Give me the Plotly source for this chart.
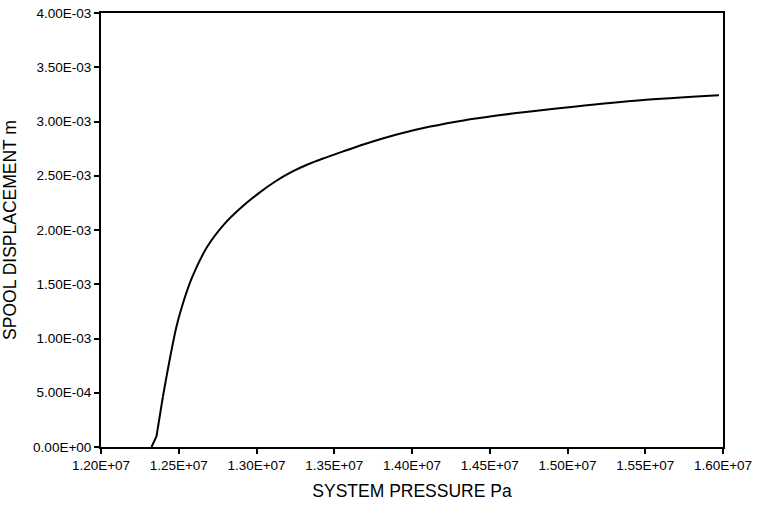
import plotly.graph_objects as go

pressure = [1.2325e7, 1.2357e7, 1.2398e7, 1.2441e7, 1.2485e7, 1.2517e7, 1.2585e7,
            1.2683e7, 1.2790e7, 1.2900e7, 1.3015e7, 1.3118e7, 1.3226e7, 1.3332e7,
            1.3440e7, 1.3558e7, 1.3687e7, 1.3902e7, 1.4117e7, 1.4331e7, 1.4546e7,
            1.4761e7, 1.5040e7, 1.5470e7, 1.5974e7]
displacement = [0.0, 0.10e-3, 0.463e-3, 0.80e-3, 1.108e-3, 1.277e-3, 1.560e-3,
                1.845e-3, 2.050e-3, 2.205e-3, 2.340e-3, 2.445e-3, 2.535e-3, 2.606e-3,
                2.665e-3, 2.725e-3, 2.788e-3, 2.880e-3, 2.953e-3, 3.010e-3, 3.055e-3,
                3.093e-3, 3.137e-3, 3.195e-3, 3.241e-3]

x_ticks = [1.20e7, 1.25e7, 1.30e7, 1.35e7, 1.40e7, 1.45e7, 1.50e7, 1.55e7, 1.60e7]
x_labels = ["1.20E+07", "1.25E+07", "1.30E+07", "1.35E+07", "1.40E+07",
            "1.45E+07", "1.50E+07", "1.55E+07", "1.60E+07"]
y_ticks = [0, 0.5e-3, 1.0e-3, 1.5e-3, 2.0e-3, 2.5e-3, 3.0e-3, 3.5e-3, 4.0e-3]
y_labels = ["0.00E+00", "5.00E-04", "1.00E-03", "1.50E-03", "2.00E-03",
            "2.50E-03", "3.00E-03", "3.50E-03", "4.00E-03"]

fig = go.Figure()
# initial straight segments (visible kink near zero)
fig.add_trace(go.Scatter(x=pressure[:3], y=displacement[:3], mode="lines",
                         line=dict(color="black", width=2), showlegend=False))
# smooth remainder of the curve
fig.add_trace(go.Scatter(x=pressure[2:], y=displacement[2:], mode="lines",
                         line=dict(color="black", width=2, shape="spline", smoothing=0.8),
                         showlegend=False))

font = "Liberation Sans, Arial, sans-serif"
fig.update_layout(
    width=757, height=507,
    margin=dict(l=101, r=34, t=13, b=60),
    paper_bgcolor="white", plot_bgcolor="white",
    font=dict(family=font, color="black"),
)
fig.update_xaxes(
    range=[1.2e7, 1.6e7], tickvals=x_ticks, ticktext=x_labels, automargin=False,
    showgrid=False, zeroline=False, showline=True, linecolor="black", linewidth=2,
    mirror=True, ticks="outside", ticklen=5, tickwidth=2, tickcolor="black",
    tickfont=dict(size=13.5, family=font),
    title=dict(text="SYSTEM PRESSURE Pa", font=dict(size=17.5, family=font), standoff=13),
)
fig.update_yaxes(
    range=[0, 4.0e-3], tickvals=y_ticks, ticktext=y_labels, automargin=False,
    showgrid=False, zeroline=False, showline=True, linecolor="black", linewidth=2,
    mirror=True, ticks="outside", ticklen=5, tickwidth=2, tickcolor="black",
    tickfont=dict(size=13.5, family=font),
    title=dict(text="SPOOL DISPLACEMENT m", font=dict(size=17.5, family=font), standoff=12),
)

fig.write_html("out.html")
